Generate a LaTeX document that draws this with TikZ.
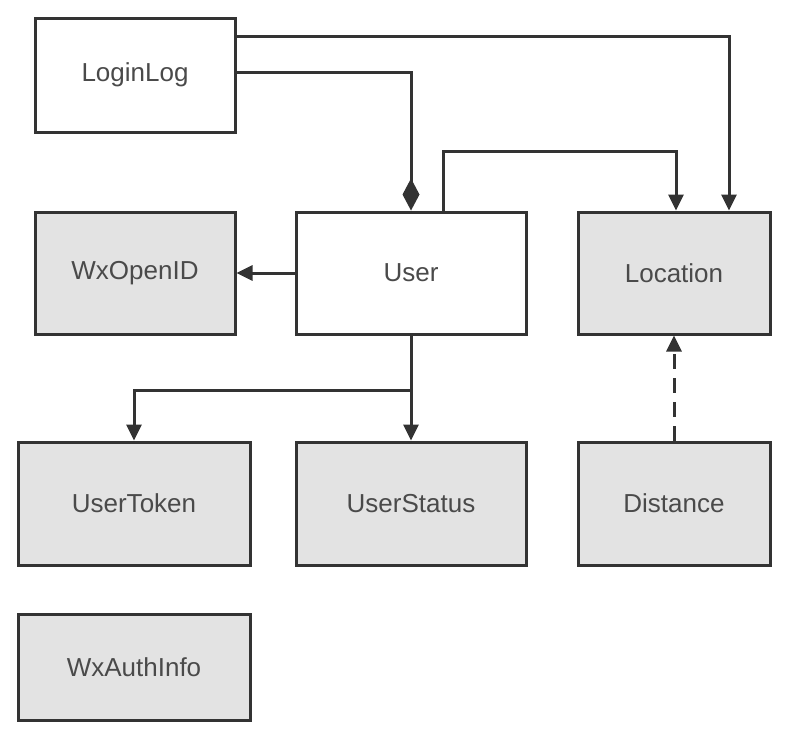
\documentclass[tikz,border=0pt]{standalone}
\usepackage{fontspec}
\setmainfont{Liberation Sans}
\usetikzlibrary{arrows.meta,calc}
\definecolor{ln}{HTML}{333333}
\definecolor{gr}{HTML}{E3E3E3}
\definecolor{tx}{HTML}{4A4A4A}
\begin{document}
\begin{tikzpicture}[x=1pt,y=1pt,
  box/.style={draw=ln,line width=3pt,rectangle,inner sep=0pt,text=tx,font=\fontsize{26}{30}\selectfont},
  gbox/.style={box,fill=gr},
  wbox/.style={box,fill=white},
  arr/.style={draw=ln,line width=3pt,-{Triangle[length=16pt,width=15pt]}},
  dia/.style={draw=ln,line width=3pt,-{Diamond[length=32pt,width=17pt]}}]
\useasboundingbox (0,0) rectangle (792,-729);
\node[wbox,minimum width=200pt,minimum height=114pt] (LoginLog) at (135,-75) {LoginLog};
\node[gbox,minimum width=200pt,minimum height=122pt] (WxOpenID) at (135,-273) {WxOpenID};
\node[wbox,minimum width=230pt,minimum height=122pt] (User) at (411,-273) {User};
\node[gbox,minimum width=192pt,minimum height=122pt] (Location) at (674,-273) {Location};
\node[gbox,minimum width=232pt,minimum height=123pt] (UserToken) at (134,-503.5) {UserToken};
\node[gbox,minimum width=230pt,minimum height=123pt] (UserStatus) at (411,-503.5) {UserStatus};
\node[gbox,minimum width=192pt,minimum height=123pt] (Distance) at (674,-503.5) {Distance};
\node[gbox,minimum width=232pt,minimum height=106pt] (WxAuthInfo) at (134,-667) {WxAuthInfo};
% connectors
\draw[arr] ([yshift=-20pt]LoginLog.north east) -| ([xshift=55pt]Location.north);
\draw[dia] ([yshift=-56pt]LoginLog.north east) -| (User.north);
\draw[arr] ([xshift=32pt]User.north) -- ++(0,59) -| ([xshift=2pt]Location.north);
\draw[arr] (User.west) -- (WxOpenID.east);
\coordinate (br) at ($(User.south)+(0,-55)$);
\draw[arr] (User.south) -- (UserStatus.north);
\draw[arr] (br) -| (UserToken.north);
\draw[arr,dash pattern=on 15pt off 9pt] (Distance.north) -- (Location.south);
\end{tikzpicture}
\end{document}
